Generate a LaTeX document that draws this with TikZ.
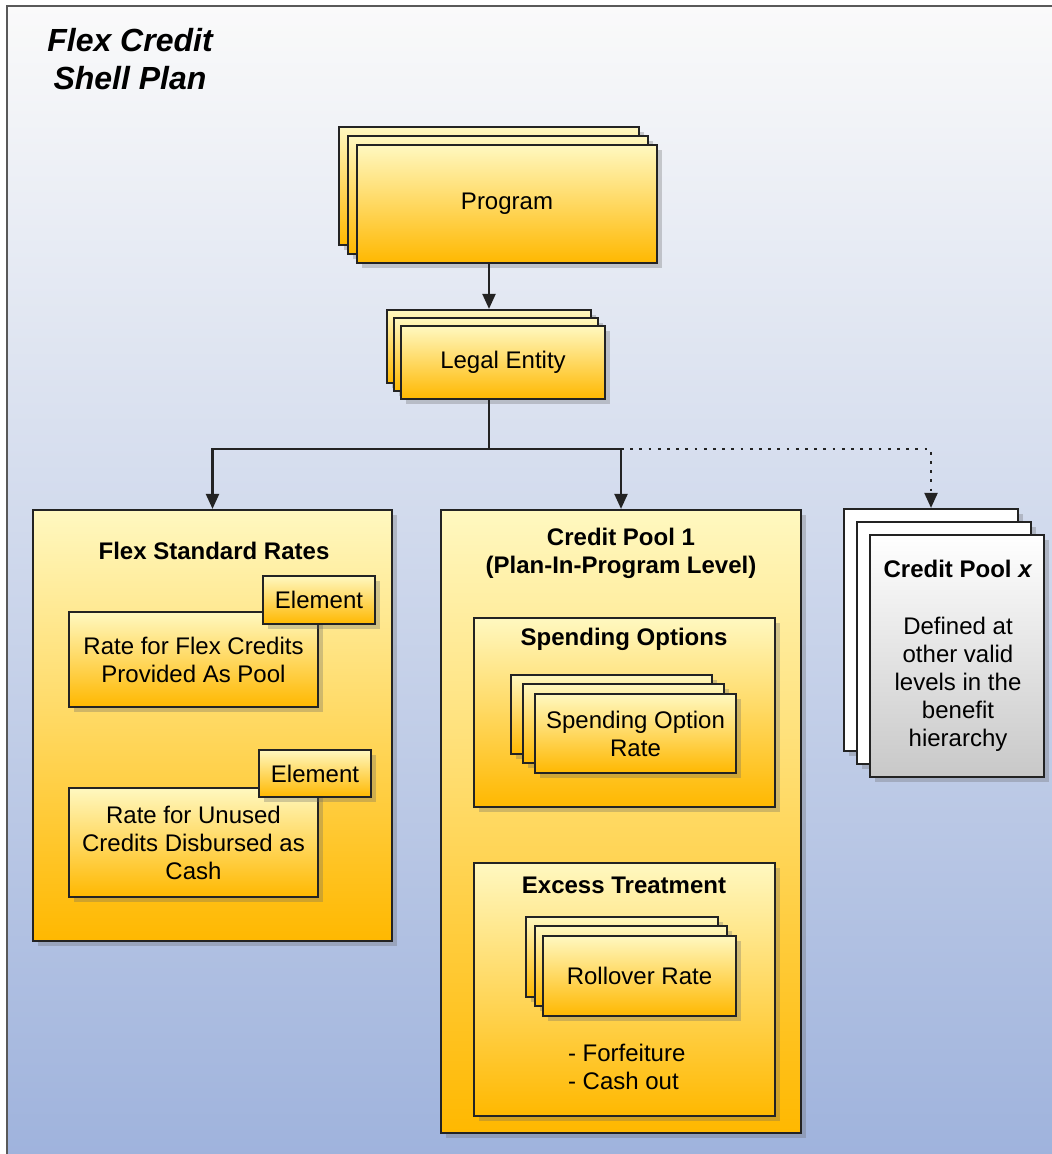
\documentclass[tikz,border=0pt]{standalone}
\usepackage{fontspec}
\setmainfont{Liberation Sans}
\usepackage{tikz}
\usetikzlibrary{arrows.meta,shadows}

\definecolor{gold}{RGB}{255,184,0}
\definecolor{paleyellow}{RGB}{255,248,192}
\definecolor{skytop}{RGB}{250,250,250}
\definecolor{skybottom}{RGB}{158,178,220}
\definecolor{cardgray}{RGB}{200,200,200}
\definecolor{edge}{RGB}{35,35,35}

\tikzset{
  every node/.style={font=\fontsize{12}{14}\selectfont},
  box/.style={draw=edge, line width=1.1pt, inner sep=0pt, top color=paleyellow, bottom color=gold, align=center,
    drop shadow={shadow xshift=2.5pt, shadow yshift=-2.5pt, opacity=.3, fill=black!60}},
  size/.style 2 args={minimum width=#1*0.5pt, minimum height=#2*0.5pt},
  greybox/.style={box, top color=white, bottom color=cardgray},
  blankbox/.style={box, top color=white, bottom color=white},
  heading/.style={font=\fontsize{12}{14}\selectfont\bfseries, align=center},
  link/.style={draw=edge, line width=1.1pt, -{Triangle[length=7.5pt,width=6.5pt]}},
}

\begin{document}
\begin{tikzpicture}[x=0.5pt, y=-0.5pt]
\useasboundingbox (0,0) rectangle (1052,1154);
\clip (0,0) rectangle (1052,1154);

% backdrop
\draw[draw=black!65, line width=1.25pt, top color=skytop, bottom color=skybottom] (7,6) rectangle (1070,1170);
\node[font=\fontsize{16}{19}\selectfont\bfseries\itshape, align=center] (plan) at (130,59) {Flex Credit\\Shell Plan};

% program
\node[box, size={300}{118}] (programC) at (489,186) {};
\node[box, size={300}{118}] (programB) at (498,195) {};
\node[box, size={300}{118}] (program) at (507,204) {Program};

% legal entity
\node[box, size={204}{73}] (legalC) at (489,346.5) {};
\node[box, size={204}{73}] (legalB) at (496,354.5) {};
\node[box, size={204}{73}] (legal) at (503,362.5) {Legal Entity};

% flex standard rates
\node[box, size={359}{431}] (flexrates) at (212.5,725.5) {};
\node[heading] (flexratesT) at (214,551) {Flex Standard Rates};
\node[box, size={249}{95}] (poolrate) at (193.5,659.5) {Rate for Flex Credits\\Provided As Pool};
\node[box, size={112}{48}] (element1) at (319,600) {Element};
\node[box, size={249}{109}] (cashrate) at (193.5,842.5) {Rate for Unused\\Credits Disbursed as\\Cash};
\node[box, size={112}{47}] (element2) at (315,773.5) {Element};

% credit pool 1
\node[box, size={360}{623}] (pool1) at (621,821.5) {};
\node[heading] (pool1T) at (621,553) {Credit Pool 1\\(Plan-In-Program Level)};
\node[box, size={301}{189}] (spending) at (624.5,712.5) {};
\node[heading] (spendingT) at (624,639) {Spending Options};
\node[box, size={201}{79}] (spendrateC) at (611.5,714.5) {};
\node[box, size={201}{79}] (spendrateB) at (623.5,723.5) {};
\node[box, size={201}{79}] (spendrate) at (635.5,733.5) {Spending Option\\Rate};
\node[box, size={301}{253}] (excess) at (624.5,989.5) {};
\node[heading] (excessT) at (624,885) {Excess Treatment};
\node[box, size={192}{80}] (rolloverC) at (622,957) {};
\node[box, size={192}{80}] (rolloverB) at (631,966) {};
\node[box, size={193}{80}] (rollover) at (639.5,976) {Rollover Rate};
\node[align=left, anchor=west] (excessL) at (561,1067) {- Forfeiture\\- Cash out};

% credit pool x
\node[blankbox, size={174}{242}] (poolxC) at (931,630) {};
\node[blankbox, size={174}{242}] (poolxB) at (944,643) {};
\node[greybox, size={174}{242}] (poolx) at (957,656) {};
\node[heading] (poolxT) at (958,569) {Credit Pool \textit{x}};
\node[align=center] (poolxL) at (958,684) {Defined at\\other valid\\levels in the\\benefit\\hierarchy};

% connectors
\coordinate (bus) at (489,449);
\draw[link] (program.south -| legalC.north) -- (legalC.north);
\draw[link] (legal.south -| bus) -- (bus) -| (flexrates.north);
\draw[link] (bus) -| (pool1.north);
\draw[link, dash pattern=on 1.4pt off 3.2pt] (pool1.north |- bus) -| (poolxC.north);

\end{tikzpicture}
\end{document}
